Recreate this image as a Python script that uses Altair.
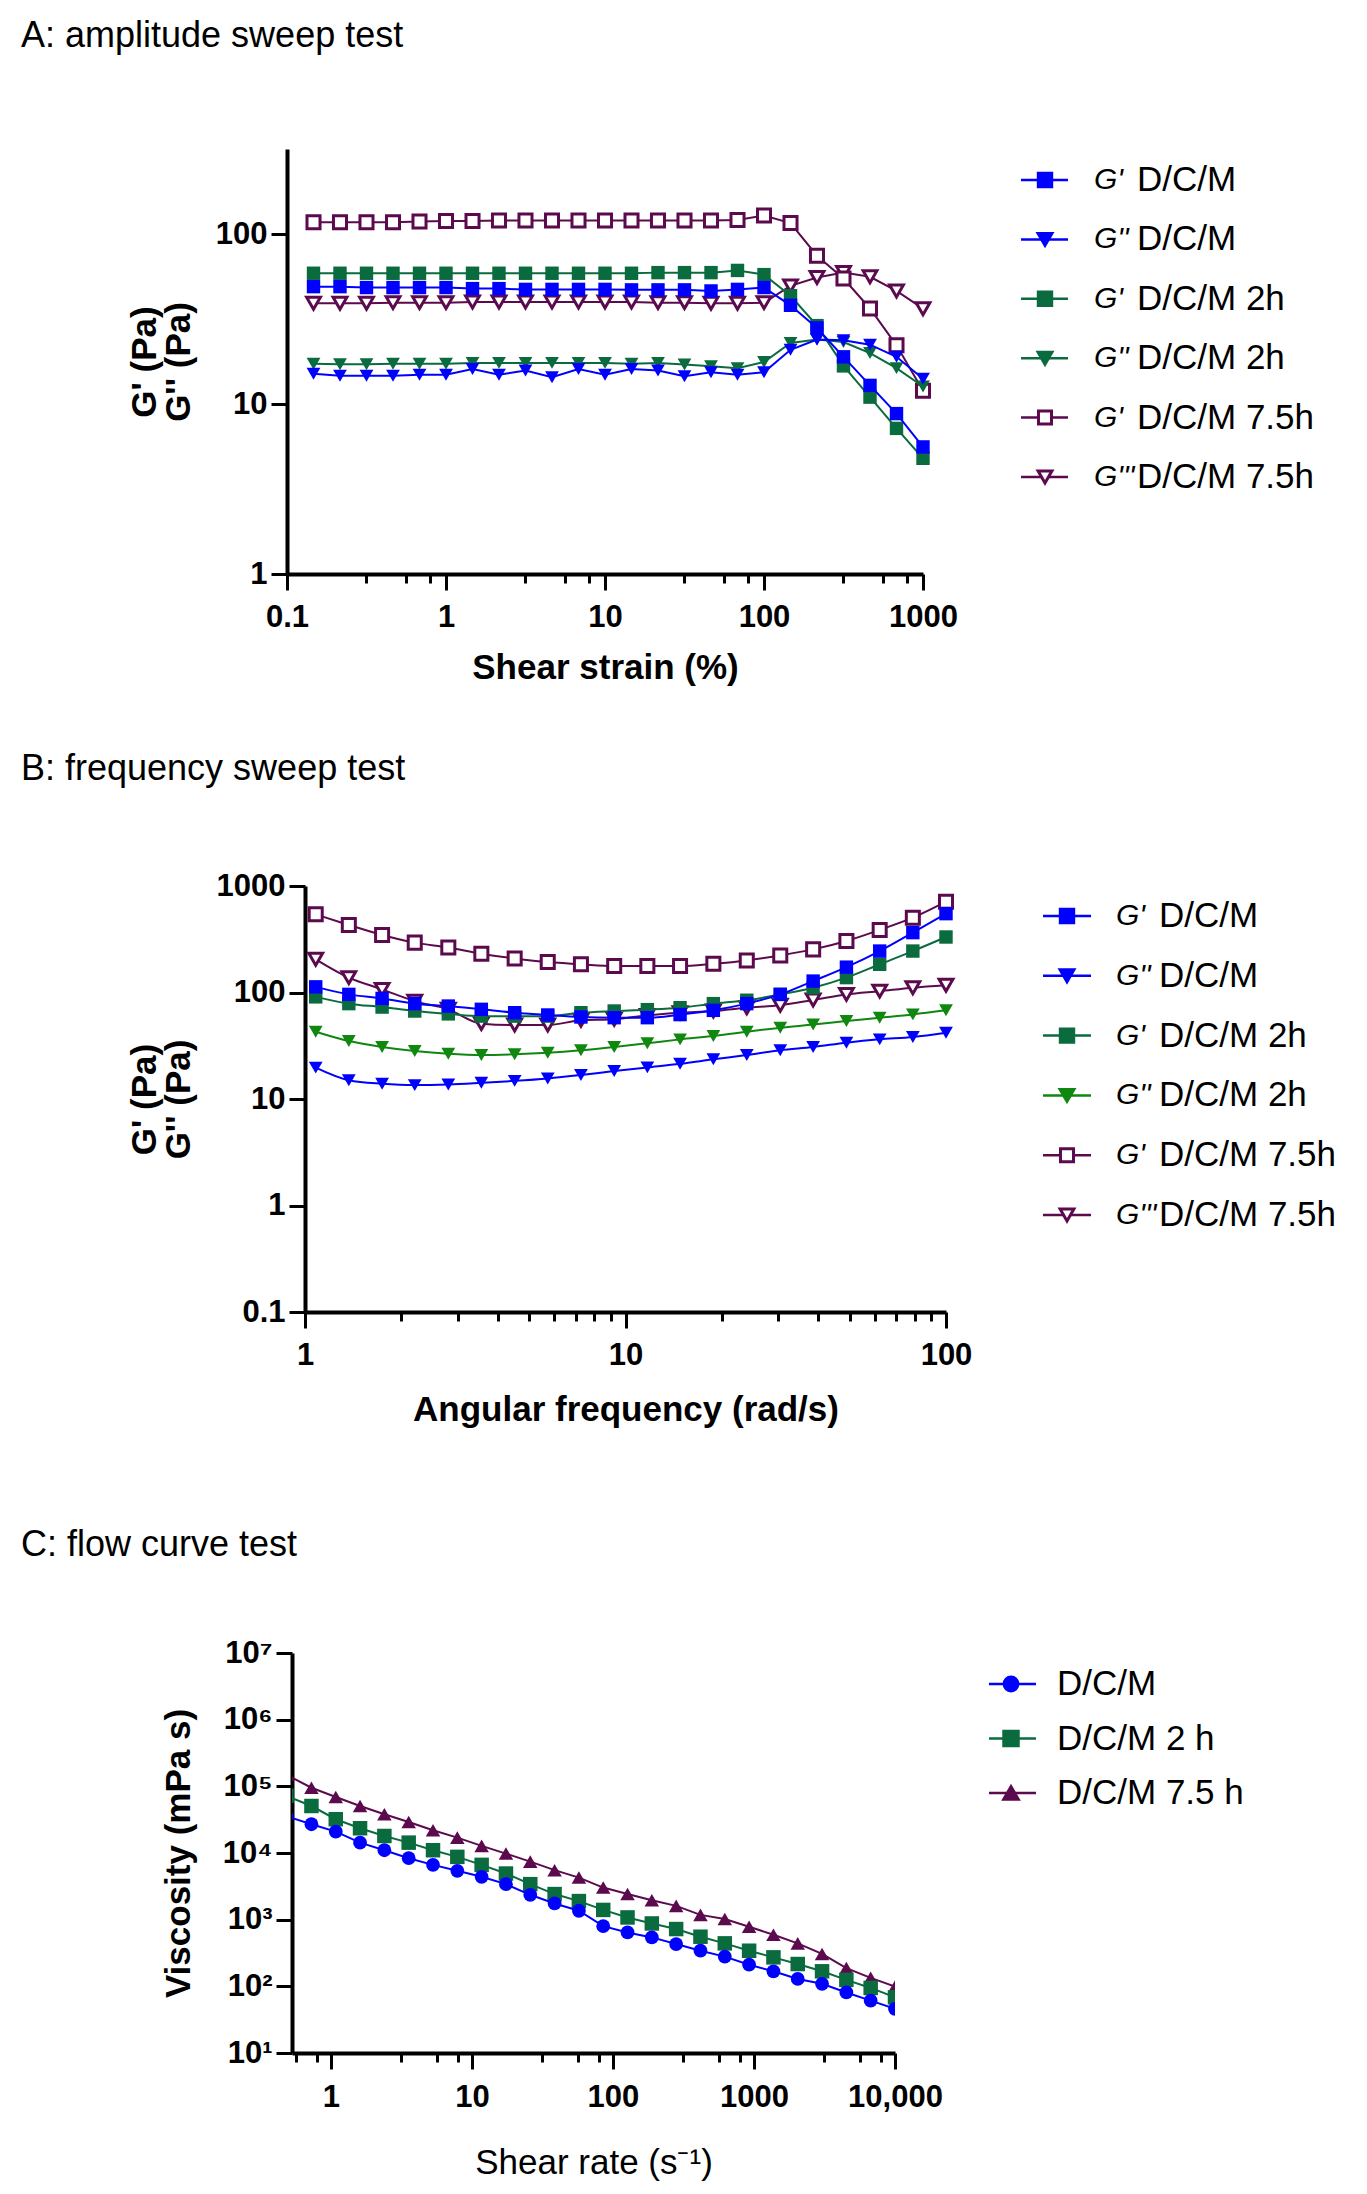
import altair as alt
import pandas as pd

FONT = "Liberation Sans"
BLUE = "#0000FF"
GREEN = "#0A6B3E"
GREEN_B = "#10870F"
PURPLE = "#5C0A4E"

# ---------------- Panel A: amplitude sweep ----------------
strain = [0.1468, 0.2154, 0.3162, 0.4642, 0.6813, 1.0, 1.468, 2.154, 3.162, 4.642, 6.813, 10.0,
          14.68, 21.54, 31.62, 46.42, 68.13, 100.0, 146.8, 215.4, 316.2, 464.2, 681.3, 1000.0]
a_gp_dcm = [49.2, 49.2, 48.6, 48.6, 48.6, 48.6, 47.9, 47.9, 47.4, 47.4, 47.4, 47.4,
            47.1, 47.1, 47.1, 46.4, 47.4, 48.6, 38.2, 28.1, 19.0, 12.9, 8.8, 5.6]
a_gpp_dcm = [15.1, 14.7, 14.7, 14.7, 14.9, 14.9, 16.1, 14.9, 15.8, 14.4, 16.1, 14.9,
             16.1, 15.8, 14.6, 15.4, 14.9, 15.4, 20.9, 24.0, 23.8, 22.4, 19.0, 14.1]
a_gp_2h = [59.0, 59.0, 59.0, 59.0, 59.0, 59.0, 59.0, 59.0, 59.0, 59.0, 59.0, 59.0,
           59.0, 59.5, 59.5, 59.5, 61.3, 57.9, 43.5, 29.0, 16.8, 11.0, 7.2, 4.8]
a_gpp_2h = [17.3, 17.2, 17.2, 17.3, 17.3, 17.3, 17.5, 17.5, 17.5, 17.5, 17.5, 17.5,
            17.3, 17.5, 17.1, 16.7, 16.3, 17.7, 22.9, 24.0, 23.2, 20.0, 16.3, 12.7]
a_gp_75h = [117.8, 117.8, 117.8, 117.8, 118.9, 119.9, 119.9, 120.5, 120.5, 120.5, 120.5, 120.5,
            120.5, 120.5, 120.5, 120.7, 121.5, 129.0, 116.6, 74.8, 54.9, 36.6, 22.2, 12.0]
a_gpp_75h = [39.3, 39.3, 39.3, 39.6, 39.6, 39.6, 40.0, 40.0, 40.0, 40.0, 40.0, 40.0,
             40.0, 39.6, 39.6, 39.3, 39.3, 39.6, 49.7, 55.7, 59.6, 56.2, 46.4, 36.5]

# ---------------- Panel B: frequency sweep ----------------
freq = [1.08, 1.37, 1.74, 2.20, 2.80, 3.55, 4.51, 5.72, 7.26, 9.22,
        11.7, 14.8, 18.8, 23.9, 30.4, 38.5, 48.9, 62.1, 78.8, 100.0]
b_gp_dcm = [113, 96, 88, 78.6, 74.6, 69.5, 64.6, 61.5, 58.9, 58,
            58, 62, 68, 78.6, 96, 128, 173, 245, 365, 550]
b_gpp_dcm = [19.7, 15.0, 13.9, 13.5, 13.7, 14.2, 14.8, 15.6, 16.8, 18.3,
             19.8, 21.4, 23.6, 25.9, 28.7, 30.8, 33.8, 36.3, 38.2, 41.9]
b_gp_2h = [91, 78.6, 73, 67, 63, 60, 60, 60, 64.6, 67,
           69, 72, 78.6, 84.6, 96, 111, 138, 184, 245, 332]
b_gpp_2h = [42.8, 35.0, 30.8, 28.2, 26.6, 25.9, 26.3, 27.2, 28.7, 30.8,
            33.4, 36.3, 39.0, 42.8, 46.7, 50.0, 54.0, 58.0, 62.3, 68.0]
b_gp_75h = [542, 431, 347, 294, 264, 231, 209, 193, 184, 177,
            177, 177, 186, 200, 223, 254, 305, 387, 504, 713]
b_gpp_75h = [205, 138, 107, 83, 69.5, 51, 49.5, 49.5, 54.8, 56,
             61, 64.6, 67, 72, 76, 85, 96, 103, 111, 117]

# ---------------- Panel C: flow curve ----------------
# first value of each list lies just left of the axis (clipped)
shear_rate = [0.484, 0.728, 1.083, 1.610, 2.395, 3.562, 5.298, 7.880, 11.72, 17.43, 25.93,
              38.57, 57.36, 85.32, 126.9, 188.7, 280.7, 417.5, 621.0, 923.6, 1374,
              2043, 3039, 4520, 6723, 10000]
c_dcm = [35700, 27000, 20900, 14300, 11000, 8360, 6640, 5400, 4390, 3410, 2360, 1750, 1360,
         800, 643, 542, 431, 342, 279, 211, 168, 129, 109, 81, 61, 46]
c_dcm_2h = [72100, 50700, 32100, 23500, 18000, 14300, 11000, 8750, 6640, 4920, 3410, 2420, 1900,
            1400, 1080, 877, 723, 555, 441, 342, 272, 216, 168, 125, 94.6, 68.4]
c_dcm_75h = [149000, 95300, 69200, 50700, 38100, 29200, 21900, 17000, 12800, 9800, 7430, 5530,
             4280, 3030, 2420, 1960, 1610, 1180, 1020, 783, 594, 441, 306, 188, 134, 99]

A_X_TICKS = [0.1, 0.3162, 0.5623, 0.7943, 1, 3.162, 5.623, 7.943, 10, 31.62, 56.23, 79.43,
             100, 316.2, 562.3, 794.3, 1000]
B_X_TICKS = [1, 2, 3, 4, 5, 6, 7, 8, 9, 10, 20, 30, 40, 50, 60, 70, 80, 90, 100]
C_X_TICKS = [0.5623, 0.7943, 1, 3.162, 5.623, 7.943, 10, 31.62, 56.23, 79.43, 100, 316.2, 562.3,
             794.3, 1000, 3162, 5623, 7943, 10000]

MAJOR = "abs(log(datum.value)/LN10 - round(log(datum.value)/LN10)) < 0.01"
NB = "\u00a0"


def x_axis(title, values, label_expr, bold=True, title_pad=20, label_pad=12):
    return alt.Axis(values=values, labelExpr=label_expr,
                    tickSize={"condition": {"test": MAJOR, "value": 16}, "value": 9},
                    tickWidth=3, tickColor="black", domainWidth=4, domainColor="black",
                    labelFont=FONT, labelFontSize=31, labelFontWeight="bold", labelColor="black",
                    labelPadding=label_pad, labelFlush=False, labelOverlap=False, grid=False,
                    title=title, titleFont=FONT, titleFontSize=35,
                    titleFontWeight="bold" if bold else "normal", titleColor="black",
                    titlePadding=title_pad)


def y_axis(title, values, label_expr, extent, line_height=34):
    return alt.Axis(values=values, labelExpr=label_expr, tickSize=16,
                    tickWidth=3, tickColor="black", domainWidth=4, domainColor="black",
                    labelFont=FONT, labelFontSize=31, labelFontWeight="bold", labelColor="black",
                    labelPadding=4, labelFlush=False, labelOverlap=False, grid=False,
                    minExtent=extent, maxExtent=extent,
                    title=title, titleFont=FONT, titleFontSize=35, titleFontWeight="bold",
                    titleColor="black", titlePadding=0, titleLineHeight=line_height)


def plot_panel(xs, series, xenc, yenc, width, height, interp="linear", clip=False, lw=2):
    layers = []
    for s in series:
        df = pd.DataFrame({"x": xs, "y": s["values"]})
        base = alt.Chart(df)
        line = base.mark_line(color=s["color"], strokeWidth=lw, interpolate=interp, clip=clip).encode(
            x=xenc, y=yenc)
        if s["open"]:
            pts = base.mark_point(shape=s["shape"], size=s["size"], filled=True, fill="white",
                                  stroke=s["color"], strokeWidth=3, opacity=1, clip=clip)
        else:
            pts = base.mark_point(shape=s["shape"], size=s["size"], filled=True, color=s["color"],
                                  opacity=1, clip=clip)
        layers += [line, pts.encode(x=xenc, y=yenc)]
    return alt.layer(*layers).properties(width=width, height=height)


def legend_panel(series, yrange, width, height, line_x2, sym_x, pre_x, suf_x):
    df = pd.DataFrame({
        "name": [s["name"] for s in series],
        "prefix": [s["prefix"] for s in series],
        "suffix": [s["suffix"] for s in series],
        "color": [s["color"] for s in series],
        "shape": [s["shape"] for s in series],
        "fill": ["white" if s["open"] else s["color"] for s in series],
        "size": [s["size"] for s in series],
    })
    y = alt.Y("name:N", scale=alt.Scale(type="point", domain=list(df["name"]), range=yrange, padding=0),
              axis=None)
    base = alt.Chart(df)
    rule = base.mark_rule(strokeWidth=2.5).encode(x=alt.value(0), x2=alt.value(line_x2), y=y,
                                                  color=alt.Color("color:N", scale=None))
    pts = base.mark_point(filled=True, strokeWidth=3, opacity=1).encode(
        x=alt.value(sym_x), y=y, shape=alt.Shape("shape:N", scale=None),
        fill=alt.Fill("fill:N", scale=None), stroke=alt.Stroke("color:N", scale=None),
        size=alt.Size("size:Q", scale=None))
    pre = base.mark_text(align="left", baseline="middle", fontSize=30, fontStyle="italic",
                         font=FONT, color="black").encode(x=alt.value(pre_x), y=y, text="prefix:N")
    suf = base.mark_text(align="left", baseline="middle", fontSize=35,
                         font=FONT, color="black").encode(x=alt.value(suf_x), y=y, text="suffix:N")
    return alt.layer(rule, pts, pre, suf).properties(width=width, height=height)


def spacer(width):
    return alt.Chart(pd.DataFrame({"s": [""]})).mark_text().encode(text="s:N").properties(
        width=width, height=10)


def row_title(text, dx, offset):
    return alt.TitleParams(text=text, anchor="start", frame="group", font=FONT, fontSize=36,
                           fontWeight="normal", color="black", dx=dx, offset=offset)


# ---------- Panel A ----------
seriesA = [
    dict(name="a1", prefix="G'", suffix="D/C/M", values=a_gp_dcm, color=BLUE, shape="square", open=False, size=180),
    dict(name="a2", prefix="G''", suffix="D/C/M", values=a_gpp_dcm, color=BLUE, shape="triangle-down", open=False, size=190),
    dict(name="a3", prefix="G'", suffix="D/C/M 2h", values=a_gp_2h, color=GREEN, shape="square", open=False, size=180),
    dict(name="a4", prefix="G''", suffix="D/C/M 2h", values=a_gpp_2h, color=GREEN, shape="triangle-down", open=False, size=190),
    dict(name="a5", prefix="G'", suffix="D/C/M 7.5h", values=a_gp_75h, color=PURPLE, shape="square", open=True, size=170),
    dict(name="a6", prefix="G'''", suffix=NB + "D/C/M 7.5h", values=a_gpp_75h, color=PURPLE, shape="triangle-down", open=True, size=190),
]
xA = alt.X("x:Q", scale=alt.Scale(type="log", domain=[0.1, 1000], nice=False),
           axis=x_axis("Shear strain (%)", A_X_TICKS, MAJOR + " ? format(datum.value, '~g') : ''",
                       title_pad=18, label_pad=12))
yA = alt.Y("y:Q", scale=alt.Scale(type="log", domain=[1, 318], nice=False),
           axis=y_axis(["G' (Pa)", "G'' (Pa)"], [1, 10, 100], "format(datum.value, '~g')", 91))
drawA = list(reversed(seriesA))
plotA = plot_panel(strain, drawA, xA, yA, 636, 425)
legA = legend_panel(seriesA, [31, 328], 300, 425, 47, 24, 73, 116)
rowA = alt.hconcat(plotA, legA, spacing=98, bounds="flush").properties(
    title=row_title("A: amplitude sweep test", -266, 94))

# ---------- Panel B ----------
seriesB = [
    dict(name="b1", prefix="G'", suffix="D/C/M", values=b_gp_dcm, color=BLUE, shape="square", open=False, size=180),
    dict(name="b2", prefix="G''", suffix="D/C/M", values=b_gpp_dcm, color=BLUE, shape="triangle-down", open=False, size=190),
    dict(name="b3", prefix="G'", suffix="D/C/M 2h", values=b_gp_2h, color=GREEN, shape="square", open=False, size=180),
    dict(name="b4", prefix="G''", suffix="D/C/M 2h", values=b_gpp_2h, color=GREEN_B, shape="triangle-down", open=False, size=190),
    dict(name="b5", prefix="G'", suffix="D/C/M 7.5h", values=b_gp_75h, color=PURPLE, shape="square", open=True, size=170),
    dict(name="b6", prefix="G'''", suffix=NB + "D/C/M 7.5h", values=b_gpp_75h, color=PURPLE, shape="triangle-down", open=True, size=190),
]
xB = alt.X("x:Q", scale=alt.Scale(type="log", domain=[1, 100], nice=False),
           axis=x_axis("Angular frequency (rad/s)", B_X_TICKS, MAJOR + " ? format(datum.value, '~g') : ''",
                       title_pad=22, label_pad=12))
yB = alt.Y("y:Q", scale=alt.Scale(type="log", domain=[0.1, 1000], nice=False),
           axis=y_axis(["G' (Pa)", "G'' (Pa)"], [0.1, 1, 10, 100, 1000], "format(datum.value, '~g')", 109))
drawB = [seriesB[5], seriesB[4], seriesB[3], seriesB[2], seriesB[1], seriesB[0]]
plotB = plot_panel(freq, drawB, xB, yB, 641, 426, interp="monotone")
legB = legend_panel(seriesB, [30, 329], 300, 426, 48, 24, 73, 116)
rowB = alt.hconcat(spacer(18), alt.hconcat(plotB, legB, spacing=97, bounds="flush"),
                   spacing=0, bounds="flush").properties(
    title=row_title("B: frequency sweep test", -266, 82))

# ---------- Panel C ----------
seriesC = [
    dict(name="c1", prefix="", suffix="D/C/M", values=c_dcm, color=BLUE, shape="circle", open=False, size=190),
    dict(name="c2", prefix="", suffix="D/C/M 2 h", values=c_dcm_2h, color=GREEN, shape="square", open=False, size=210),
    dict(name="c3", prefix="", suffix="D/C/M 7.5 h", values=c_dcm_75h, color=PURPLE, shape="triangle-up", open=False, size=210),
]
xC = alt.X("x:Q", scale=alt.Scale(type="log", domain=[0.53, 10000], nice=False),
           axis=x_axis("Shear rate (s\u207b\u00b9)", C_X_TICKS,
                       MAJOR + " ? (datum.value >= 10000 ? '10,000' : format(datum.value, '~g')) : ''",
                       bold=False, title_pad=33, label_pad=13))
yC = alt.Y("y:Q", scale=alt.Scale(type="log", domain=[10, 1e7], nice=False),
           axis=y_axis("Viscosity (mPa s)", [10, 100, 1000, 1e4, 1e5, 1e6, 1e7],
                       "'10' + ['\u2070','\u00b9','\u00b2','\u00b3','\u2074','\u2075','\u2076','\u2077'][round(log(datum.value)/LN10)]",
                       96))
drawC = [seriesC[2], seriesC[1], seriesC[0]]
plotC = plot_panel(shear_rate, drawC, xC, yC, 603, 400, clip=True)
legC = legend_panel(seriesC, [31, 140], 300, 400, 47, 22, 68, 68)
rowC = alt.hconcat(spacer(5), alt.hconcat(plotC, legC, spacing=94, bounds="flush"),
                   spacing=0, bounds="flush").properties(
    title=row_title("C: flow curve test", -266, 73))

top = alt.concat(rowA, rowB, columns=1, spacing=66, align="none")
chart = alt.concat(top, rowC, columns=1, spacing=100, align="none").configure(
    padding={"left": 13, "top": 10, "right": 5, "bottom": 5}, font=FONT, background="white"
).configure_view(stroke=None)

chart.save("out.html", embed_options={"renderer": "svg", "actions": False})
